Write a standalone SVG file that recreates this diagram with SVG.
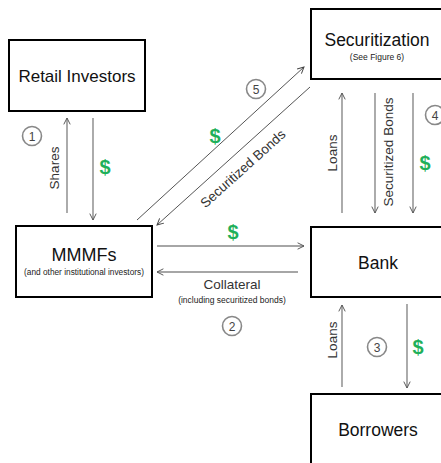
<svg xmlns="http://www.w3.org/2000/svg" width="441" height="463" viewBox="0 0 441 463">
<defs>
<marker id="ah" viewBox="0 0 10 10" refX="9" refY="5" markerWidth="8" markerHeight="8" orient="auto" markerUnits="userSpaceOnUse">
<path d="M1,1 L9,5 L1,9" fill="none" stroke="#555" stroke-width="1.2"/>
</marker>
<marker id="ah2" viewBox="0 0 10 10" refX="9" refY="5" markerWidth="8" markerHeight="8" orient="auto" markerUnits="userSpaceOnUse">
<path d="M1,1 L9,5 L1,9" fill="none" stroke="#444" stroke-width="1.2"/>
</marker>
</defs>
<style>
.box{fill:#fff;stroke:#000;stroke-width:2}
.t{font-family:"Liberation Sans",Arial,sans-serif;fill:#111;text-anchor:middle}
.s{font-family:"Liberation Sans",Arial,sans-serif;fill:#222;text-anchor:middle}
.ln{stroke:#888;stroke-width:1.4;fill:none;marker-end:url(#ah)}
.dl{stroke:#555;stroke-width:1;fill:none;marker-end:url(#ah2)}
.d{font-family:"Liberation Sans",Arial,sans-serif;font-weight:bold;fill:#1fb05a;font-size:20px;text-anchor:middle}
.c{fill:#fff;stroke:#888;stroke-width:1.6}
.cn{font-family:"Liberation Sans",Arial,sans-serif;fill:#444;font-size:12px;text-anchor:middle}
.lb{font-family:"Liberation Sans",Arial,sans-serif;fill:#333;font-size:13.5px;text-anchor:middle}
</style>
<rect width="441" height="463" fill="#fff"/>
<g id="connectors">
<line class="ln" x1="67" y1="213" x2="67" y2="118"/>
<line class="ln" x1="93" y1="118" x2="93" y2="220"/>
<line class="dl" x1="137" y1="220" x2="304" y2="67"/>
<line class="dl" x1="310" y1="87" x2="157" y2="225"/>
<line class="ln" x1="157" y1="246" x2="304" y2="246"/>
<line class="ln" x1="298" y1="272" x2="157" y2="272"/>
<line class="ln" x1="342" y1="213" x2="342" y2="93"/>
<line class="ln" x1="375" y1="93" x2="375" y2="213"/>
<line class="ln" x1="413" y1="93" x2="413" y2="213"/>
<line class="ln" x1="342" y1="387" x2="342" y2="305"/>
<line class="ln" x1="407" y1="304" x2="407" y2="388"/>
<text class="lb" transform="translate(59,168) rotate(-90)">Shares</text>
<text class="d" x="105" y="174">$</text>
<circle class="c" cx="32" cy="136" r="9.5"/><text class="cn" x="32" y="140.5">1</text>
<circle class="c" cx="256" cy="89" r="9.5"/><text class="cn" x="256" y="93.5">5</text>
<text class="d" x="215" y="143">$</text>
<text class="lb" transform="translate(246,172) rotate(-42)">Securitized Bonds</text>
<text class="d" x="233" y="239">$</text>
<text class="lb" x="232" y="289">Collateral</text>
<text class="s" x="232" y="303" font-size="8.5">(including securitized bonds)</text>
<circle class="c" cx="232" cy="326" r="9.5"/><text class="cn" x="232" y="330.5">2</text>
<text class="lb" transform="translate(337,153) rotate(-90)">Loans</text>
<text class="lb" transform="translate(393,152) rotate(-90)">Securitized Bonds</text>
<circle class="c" cx="435" cy="115" r="9.5"/><text class="cn" x="435" y="119.5">4</text>
<text class="d" x="425" y="170">$</text>
<text class="lb" transform="translate(337,340) rotate(-90)">Loans</text>
<circle class="c" cx="377" cy="347" r="9.5"/><text class="cn" x="377" y="351.5">3</text>
<text class="d" x="418" y="354">$</text>
</g>
<g id="retail">
<rect class="box" x="9" y="40" width="136" height="71"/>
<text class="t" x="77" y="82" font-size="17">Retail Investors</text>
</g>
<g id="mmmfs">
<rect class="box" x="16" y="226" width="136" height="71"/>
<text class="t" x="84" y="261" font-size="18">MMMFs</text>
<text class="s" x="84" y="275" font-size="8.3">(and other institutional investors)</text>
</g>
<g id="securitization">
<rect class="box" x="311" y="9" width="140" height="70"/>
<text class="t" x="377" y="46" font-size="17.5">Securitization</text>
<text class="s" x="377" y="60" font-size="8.5">(See Figure 6)</text>
</g>
<g id="bank">
<rect class="box" x="311" y="227" width="140" height="70"/>
<text class="t" x="378" y="269" font-size="17.5">Bank</text>
</g>
<g id="borrowers">
<rect class="box" x="311" y="394" width="140" height="80"/>
<text class="t" x="378" y="436" font-size="17.5">Borrowers</text>
</g>
</svg>
